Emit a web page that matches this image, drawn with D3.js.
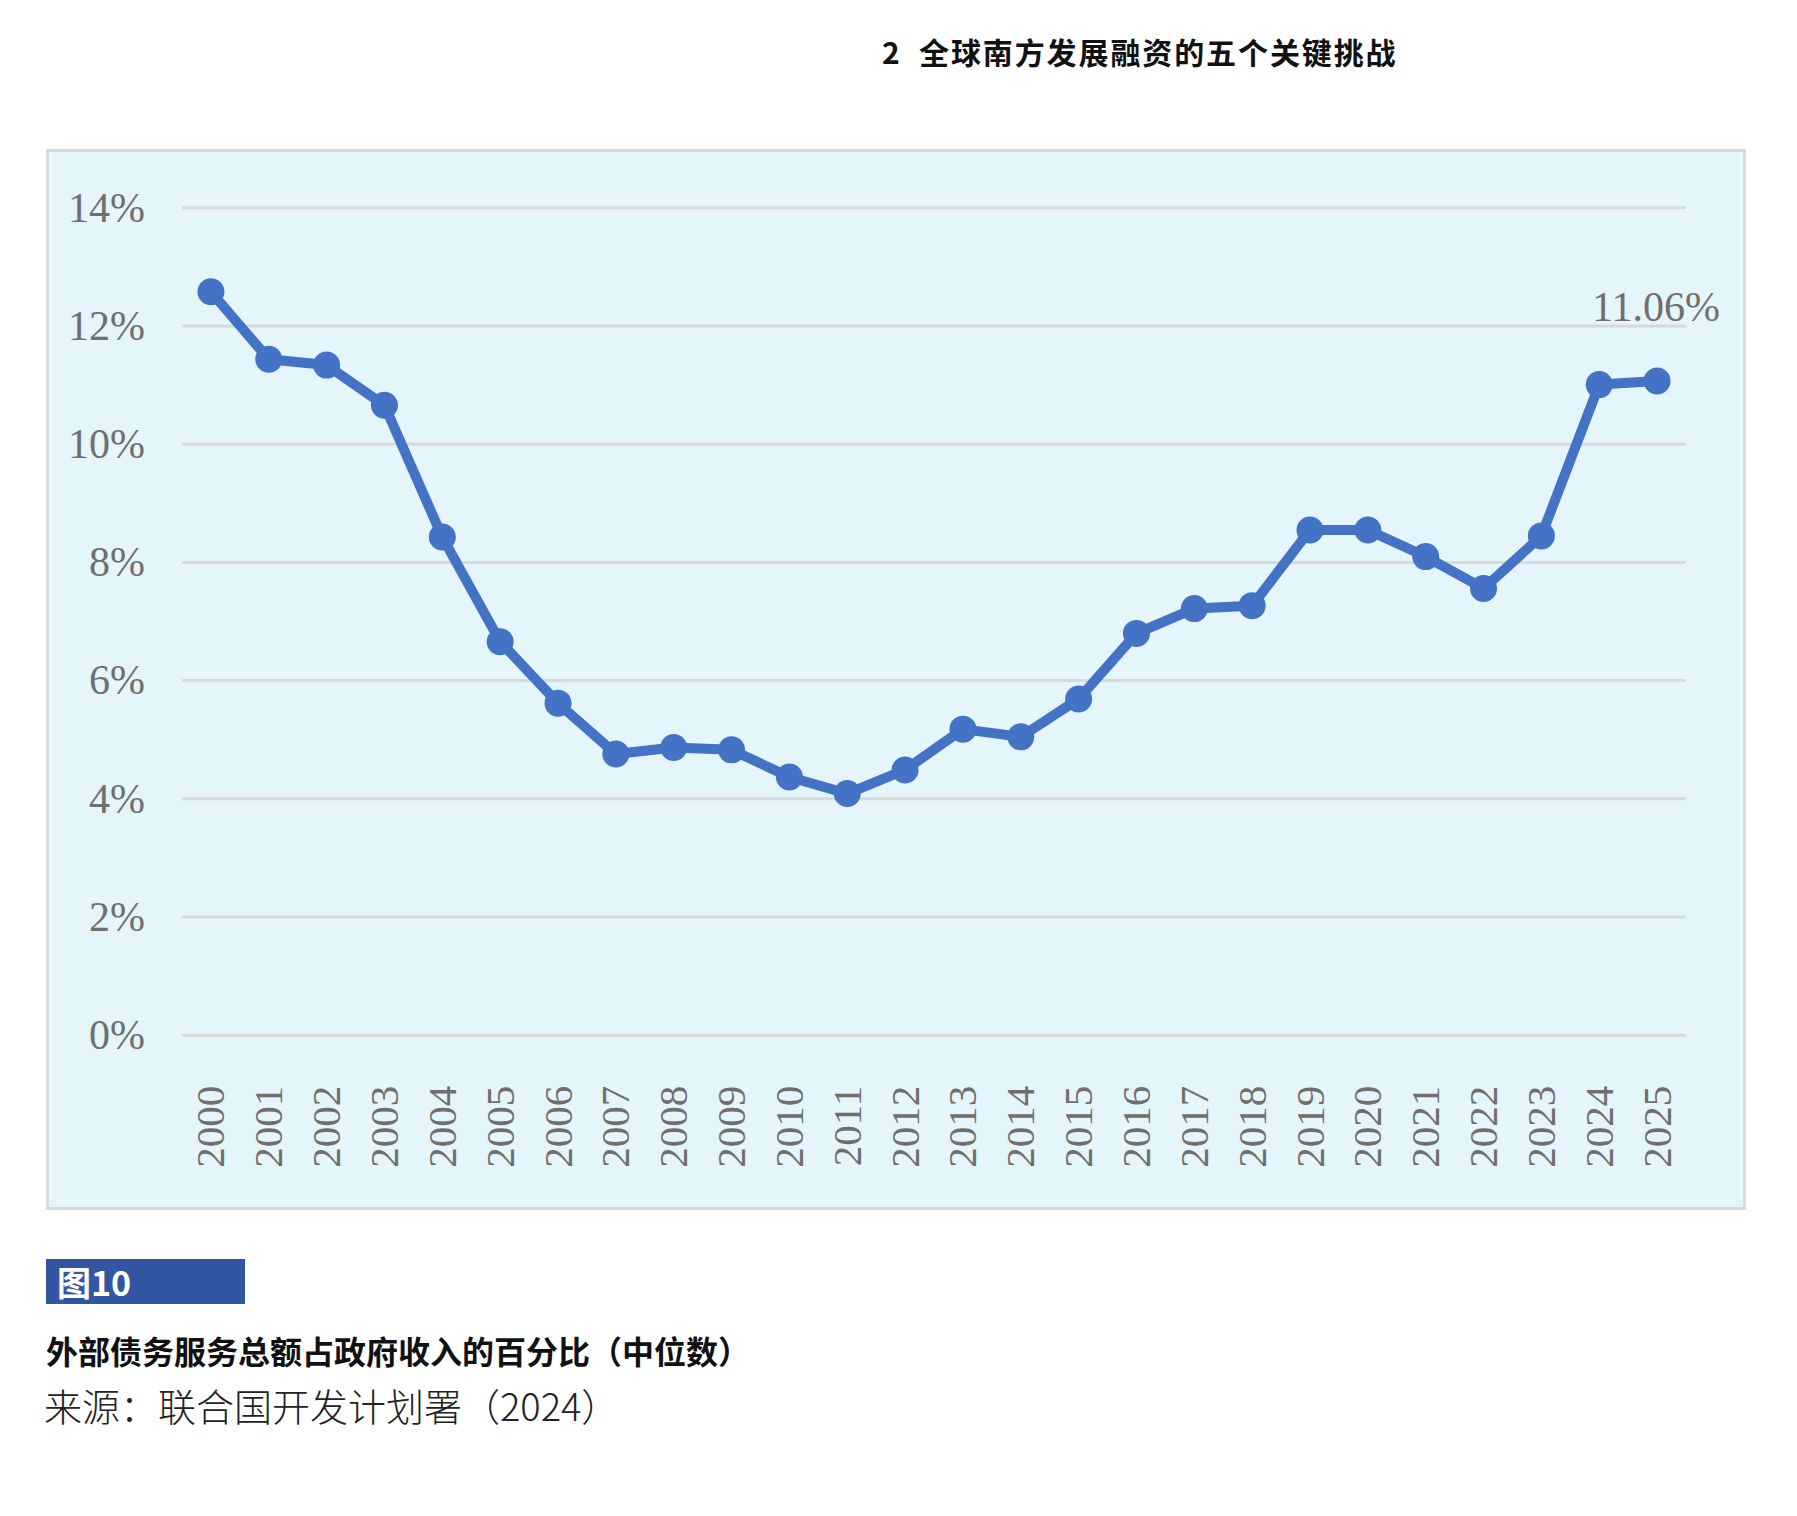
<!DOCTYPE html>
<html>
<head>
<meta charset="utf-8">
<script src="https://cdn.jsdelivr.net/npm/d3@7"></script>
<style>
  body { margin: 0; background: #fff; }
  svg { display: block; }
</style>
</head>
<body>
<div id="chart"></div>
<script>
// data
const years = ["2000", "2001", "2002", "2003", "2004", "2005", "2006", "2007", "2008", "2009",
  "2010", "2011", "2012", "2013", "2014", "2015", "2016", "2017", "2018", "2019",
  "2020", "2021", "2022", "2023", "2024", "2025"];
const values = [12.57, 11.43, 11.33, 10.65, 8.42, 6.65, 5.61, 4.75, 4.86, 4.82,
  4.36, 4.08, 4.48, 5.17, 5.04, 5.68, 6.79, 7.21, 7.26, 8.54,
  8.54, 8.09, 7.55, 8.44, 11.0, 11.06];
const yTicks = [0, 2, 4, 6, 8, 10, 12, 14];
const lastLabel = "11.06%";

const pageTitle = "2  全球南方发展融资的五个关键挑战";
const figTag = "图10";
const figTitle = "外部债务服务总额占政府收入的百分比（中位数）";
const figSource = "来源：联合国开发计划署（2024）";

const width = 1797, height = 1516;
const plot = { left: 182, right: 1686, top: 207.3, bottom: 1034.7 };
const serif = "'Liberation Serif', 'Times New Roman', serif";
const cjk = "'Noto Sans CJK SC', 'Noto Sans', sans-serif";
const grey = "#6f6f6f";
const blue = "#4472c4";

const svg = d3.select("#chart").append("svg")
  .attr("width", width)
  .attr("height", height)
  .attr("viewBox", [0, 0, width, height]);

// header
svg.append("text")
  .attr("x", 882).attr("y", 64)
  .attr("font-family", cjk).attr("font-weight", 700)
  .attr("font-size", 30).attr("fill", "#111")
  .attr("letter-spacing", 1.9)
  .attr("xml:space", "preserve")
  .text(pageTitle);

// panel
svg.append("rect")
  .attr("x", 47.5).attr("y", 150.5)
  .attr("width", 1697).attr("height", 1058)
  .attr("fill", "#e4f5fc")
  .attr("stroke", "#d6dadd")
  .attr("stroke-width", 3);

const x = d3.scaleBand()
  .domain(years)
  .range([plot.left, plot.right]);

const y = d3.scaleLinear()
  .domain([0, 14])
  .range([plot.bottom, plot.top]);

// grid + y labels
const yAxis = g => g
  .attr("transform", `translate(${plot.left},0)`)
  .call(d3.axisLeft(y).tickValues(yTicks).tickFormat(d => d + "%")
    .tickSize(-(plot.right - plot.left)).tickPadding(37))
  .call(g => g.select(".domain").remove())
  .call(g => g.selectAll(".tick line").attr("stroke", "#d9d9d9").attr("stroke-width", 3))
  .call(g => g.selectAll(".tick text")
    .attr("font-family", serif).attr("font-size", 42)
    .attr("fill", grey).attr("dy", "0.33em"));

svg.append("g").call(yAxis);

// x labels (vertical)
const xAxis = g => g
  .attr("transform", `translate(0,${plot.bottom})`)
  .call(d3.axisBottom(x).tickSize(0))
  .call(g => g.select(".domain").remove())
  .call(g => g.selectAll(".tick text")
    .attr("font-family", serif).attr("font-size", 41)
    .attr("fill", grey)
    .attr("text-anchor", "end")
    .attr("transform", "rotate(-90)")
    .attr("x", -51).attr("y", 0).attr("dy", "0.33em"));

svg.append("g").call(xAxis);

const cx = d => x(d) + x.bandwidth() / 2;
const data = years.map((yr, i) => ({ year: yr, value: values[i] }));

const line = d3.line()
  .x(d => cx(d.year))
  .y(d => y(d.value));

svg.append("path")
  .datum(data)
  .attr("fill", "none")
  .attr("stroke", blue)
  .attr("stroke-width", 10)
  .attr("stroke-linejoin", "round")
  .attr("d", line);

svg.append("g")
  .selectAll("circle")
  .data(data)
  .join("circle")
  .attr("cx", d => cx(d.year))
  .attr("cy", d => y(d.value))
  .attr("r", 13.5)
  .attr("fill", blue);

const last = data[data.length - 1];
svg.append("text")
  .attr("x", cx(last.year) - 1)
  .attr("y", y(last.value) - 60)
  .attr("text-anchor", "middle")
  .attr("font-family", serif).attr("font-size", 42)
  .attr("fill", grey)
  .text(lastLabel);

// caption
svg.append("rect")
  .attr("x", 46).attr("y", 1259)
  .attr("width", 199).attr("height", 45)
  .attr("fill", "#3356a2");

svg.append("text")
  .attr("x", 57).attr("y", 1296)
  .attr("font-family", cjk).attr("font-weight", 700)
  .attr("font-size", 34).attr("fill", "#fff")
  .text(figTag);

svg.append("text")
  .attr("x", 46).attr("y", 1364)
  .attr("font-family", cjk).attr("font-weight", 700)
  .attr("font-size", 32).attr("fill", "#111")
  .text(figTitle);

svg.append("text")
  .attr("x", 44).attr("y", 1421)
  .attr("font-family", cjk).attr("font-weight", 300)
  .attr("font-size", 38).attr("fill", "#222")
  .text(figSource);
</script>
</body>
</html>
